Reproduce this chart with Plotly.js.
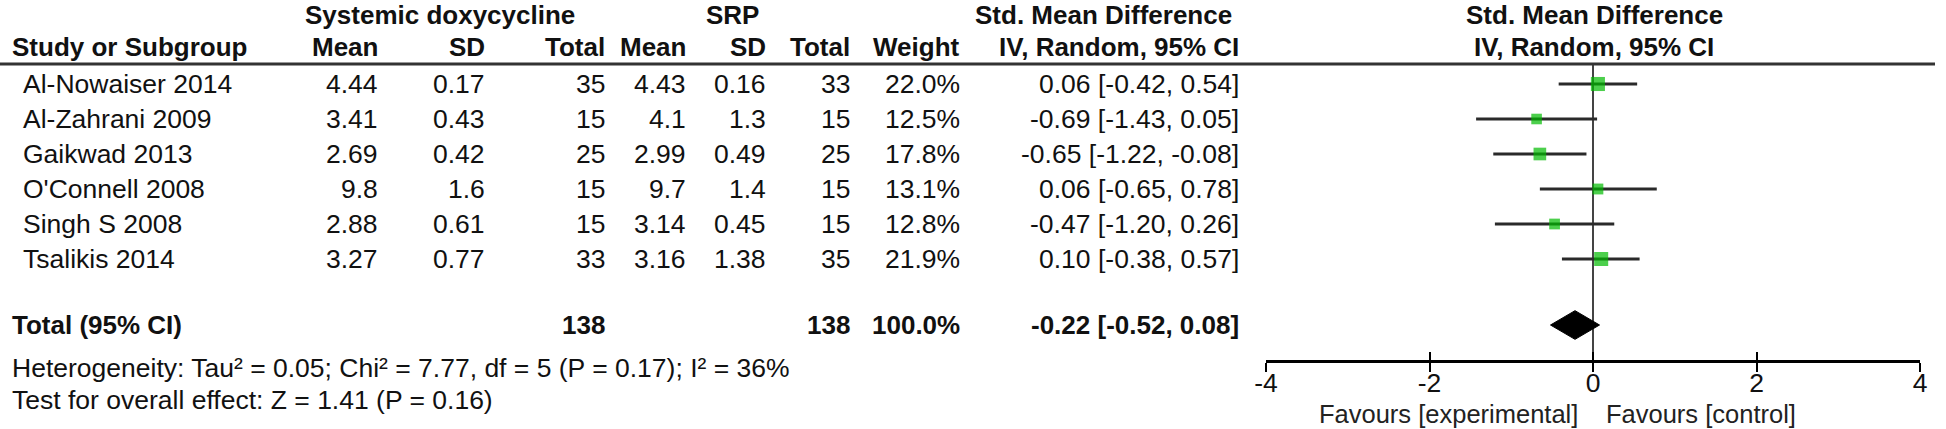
<!DOCTYPE html>
<html>
<head>
<meta charset="utf-8">
<script src="https://cdn.plot.ly/plotly-3.0.1.min.js"></script>
<style>html,body{margin:0;padding:0;background:#fff;}#chart{width:1946px;height:429px;}</style>
</head>
<body>
<div id="chart"></div>
<script>
// ---- data ----
const studies = ['Al-Nowaiser 2014', 'Al-Zahrani 2009', 'Gaikwad 2013', "O'Connell 2008", 'Singh S 2008', 'Tsalikis 2014'];
const expMean = ['4.44', '3.41', '2.69', '9.8', '2.88', '3.27'];
const expSD = ['0.17', '0.43', '0.42', '1.6', '0.61', '0.77'];
const expN = [35, 15, 25, 15, 15, 33];
const ctrlMean = ['4.43', '4.1', '2.99', '9.7', '3.14', '3.16'];
const ctrlSD = ['0.16', '1.3', '0.49', '1.4', '0.45', '1.38'];
const ctrlN = [33, 15, 25, 15, 15, 35];
const weight = [22.0, 12.5, 17.8, 13.1, 12.8, 21.9];
const smd = [0.06, -0.69, -0.65, 0.06, -0.47, 0.10];
const ciLo = [-0.42, -1.43, -1.22, -0.65, -1.20, -0.38];
const ciHi = [0.54, 0.05, -0.08, 0.78, 0.26, 0.57];
const totalExpN = 138;
const totalCtrlN = 138;
const totalWeight = 100.0;
const pooled = -0.22, pooledLo = -0.52, pooledHi = 0.08;
const tickVals = [-4, -2, 0, 2, 4];
const tickText = ['-4', '-2', '0', '2', '4'];
const heterogeneity = 'Heterogeneity: Tau² = 0.05; Chi² = 7.77, df = 5 (P = 0.17); I² = 36%';
const overallTest = 'Test for overall effect: Z = 1.41 (P = 0.16)';
const favLeft = 'Favours [experimental]';
const favRight = 'Favours [control]';

// ---- layout helpers ----
const W = 1946, H = 429;
const ROW0 = 84, ROWH = 35;           // pixel of first row, row spacing
const py = p => (p - ROW0) / ROWH;    // pixel y -> row units
const px = p => p / W;                // pixel x -> paper
const totalRow = py(325);
const FONT = 'Liberation Sans, Arial, sans-serif';
const FS = 26.5;   // regular text
const FSB = 26;    // bold text
const TXT = '#111111';

const fmt2 = v => v.toFixed(2);
const ciText = (e, l, h) => fmt2(e) + ' [' + fmt2(l) + ', ' + fmt2(h) + ']';

const ann = [];
function A(text, xp, yk, anchor, bold, size) {
  ann.push({
    text: bold ? '<b>' + text + '</b>' : text,
    xref: 'paper', yref: 'y', x: px(xp), y: yk,
    xanchor: anchor, yanchor: 'middle', showarrow: false,
    font: {family: FONT, size: size || (bold ? FSB : FS), color: TXT}
  });
}

// column right edges (px)
const C = {name: 21, em: 380, esd: 487, en: 607, cm: 688, csd: 768, cn: 852, w: 962, ci: 1241};

// headers
A('Systemic doxycycline', 440, py(15), 'center', true);
A('SRP', 732, py(15), 'center', true);
A('Std. Mean Difference', 1103, py(15), 'center', true);
A('Std. Mean Difference', 1594, py(15), 'center', true);
A('Study or Subgroup', 10, py(47), 'left', true);
A('Mean', C.em, py(47), 'right', true);
A('SD', C.esd, py(47), 'right', true);
A('Total', C.en, py(47), 'right', true);
A('Mean', C.cm, py(47), 'right', true);
A('SD', C.csd, py(47), 'right', true);
A('Total', C.cn, py(47), 'right', true);
A('Weight', C.w, py(47), 'right', true);
A('IV, Random, 95% CI', C.ci, py(47), 'right', true);
A('IV, Random, 95% CI', 1594, py(47), 'center', true);

// study rows
studies.forEach((s, i) => {
  A(s, C.name, i, 'left');
  A(expMean[i], C.em, i, 'right');
  A(expSD[i], C.esd, i, 'right');
  A(String(expN[i]), C.en, i, 'right');
  A(ctrlMean[i], C.cm, i, 'right');
  A(ctrlSD[i], C.csd, i, 'right');
  A(String(ctrlN[i]), C.cn, i, 'right');
  A(weight[i].toFixed(1) + '%', C.w, i, 'right');
  A(ciText(smd[i], ciLo[i], ciHi[i]), C.ci, i, 'right');
});

// total row
A('Total (95% CI)', 10, totalRow, 'left', true);
A(String(totalExpN), C.en, totalRow, 'right', true);
A(String(totalCtrlN), C.cn, totalRow, 'right', true);
A(totalWeight.toFixed(1) + '%', C.w, totalRow, 'right', true);
A(ciText(pooled, pooledLo, pooledHi), C.ci, totalRow, 'right', true);
A(heterogeneity, 10, py(368), 'left');
A(overallTest, 10, py(400), 'left');

// favours labels
ann.push({text: favLeft, xref: 'x', yref: 'y', x: -0.16, y: py(414), xanchor: 'right', yanchor: 'middle', showarrow: false, font: {family: FONT, size: 25.5, color: '#222'}});
ann.push({text: favRight, xref: 'x', yref: 'y', x: 0.14, y: py(414), xanchor: 'left', yanchor: 'middle', showarrow: false, font: {family: FONT, size: 25.5, color: '#222'}});

// ---- traces ----
const rows = studies.map((_, i) => i);
const ciX = [], ciY = [];
rows.forEach(i => { ciX.push(ciLo[i], ciHi[i], null); ciY.push(i, i, null); });

const traces = [
  {x: ciX, y: ciY, mode: 'lines', line: {color: '#2a2a2a', width: 3}, hoverinfo: 'skip', xaxis: 'x', yaxis: 'y'},
  {x: smd, y: rows, mode: 'markers', marker: {symbol: 'square', color: '#00bb00', size: weight.map(w => 3.0 * Math.sqrt(w)), line: {width: 0}}, xaxis: 'x', yaxis: 'y'},
  {x: [pooledLo, pooled, pooledHi, pooled, pooledLo], y: [totalRow, totalRow - 0.41, totalRow, totalRow + 0.41, totalRow],
   mode: 'lines', fill: 'toself', fillcolor: '#000000', line: {color: '#000000', width: 1}, xaxis: 'x', yaxis: 'y'},
  {x: tickVals, y: tickVals.map(() => totalRow), mode: 'markers', marker: {opacity: 0}, xaxis: 'x2', yaxis: 'y', hoverinfo: 'skip'}
];

const axPos = 1 - 361 / H;
const dom = [px(1266), px(1920)];
const layout = {
  width: W, height: H,
  margin: {l: 0, r: 0, t: 0, b: 0, pad: 0},
  paper_bgcolor: '#ffffff', plot_bgcolor: 'rgba(0,0,0,0)',
  showlegend: false,
  xaxis: {domain: dom, range: [-4, 4], anchor: 'free', position: axPos,
    tickvals: tickVals, ticktext: tickText, ticks: 'outside', ticklen: 9, tickwidth: 2, tickcolor: '#000',
    ticklabelstandoff: -12,
    showline: true, linewidth: 3, linecolor: '#000', showgrid: false, zeroline: false,
    tickfont: {family: FONT, size: FS, color: TXT}, fixedrange: true},
  xaxis2: {domain: dom, range: [-4, 4], anchor: 'free', position: axPos, overlaying: 'x',
    tickvals: tickVals, ticks: 'inside', ticklen: 9, tickwidth: 2, tickcolor: '#000',
    showticklabels: false, showline: false, showgrid: false, zeroline: false, fixedrange: true},
  yaxis: {domain: [0, 1], range: [py(H), py(0)], visible: false, fixedrange: true},
  shapes: [
    {type: 'line', xref: 'paper', yref: 'y', x0: 0, x1: px(1935), y0: py(64), y1: py(64), line: {color: '#333333', width: 3}},
    {type: 'line', xref: 'x', yref: 'y', x0: 0, x1: 0, y0: py(64), y1: py(361), line: {color: '#444444', width: 2}, layer: 'below'}
  ],
  annotations: ann
};

Plotly.newPlot('chart', traces, layout, {staticPlot: true, displayModeBar: false});
</script>
</body>
</html>
